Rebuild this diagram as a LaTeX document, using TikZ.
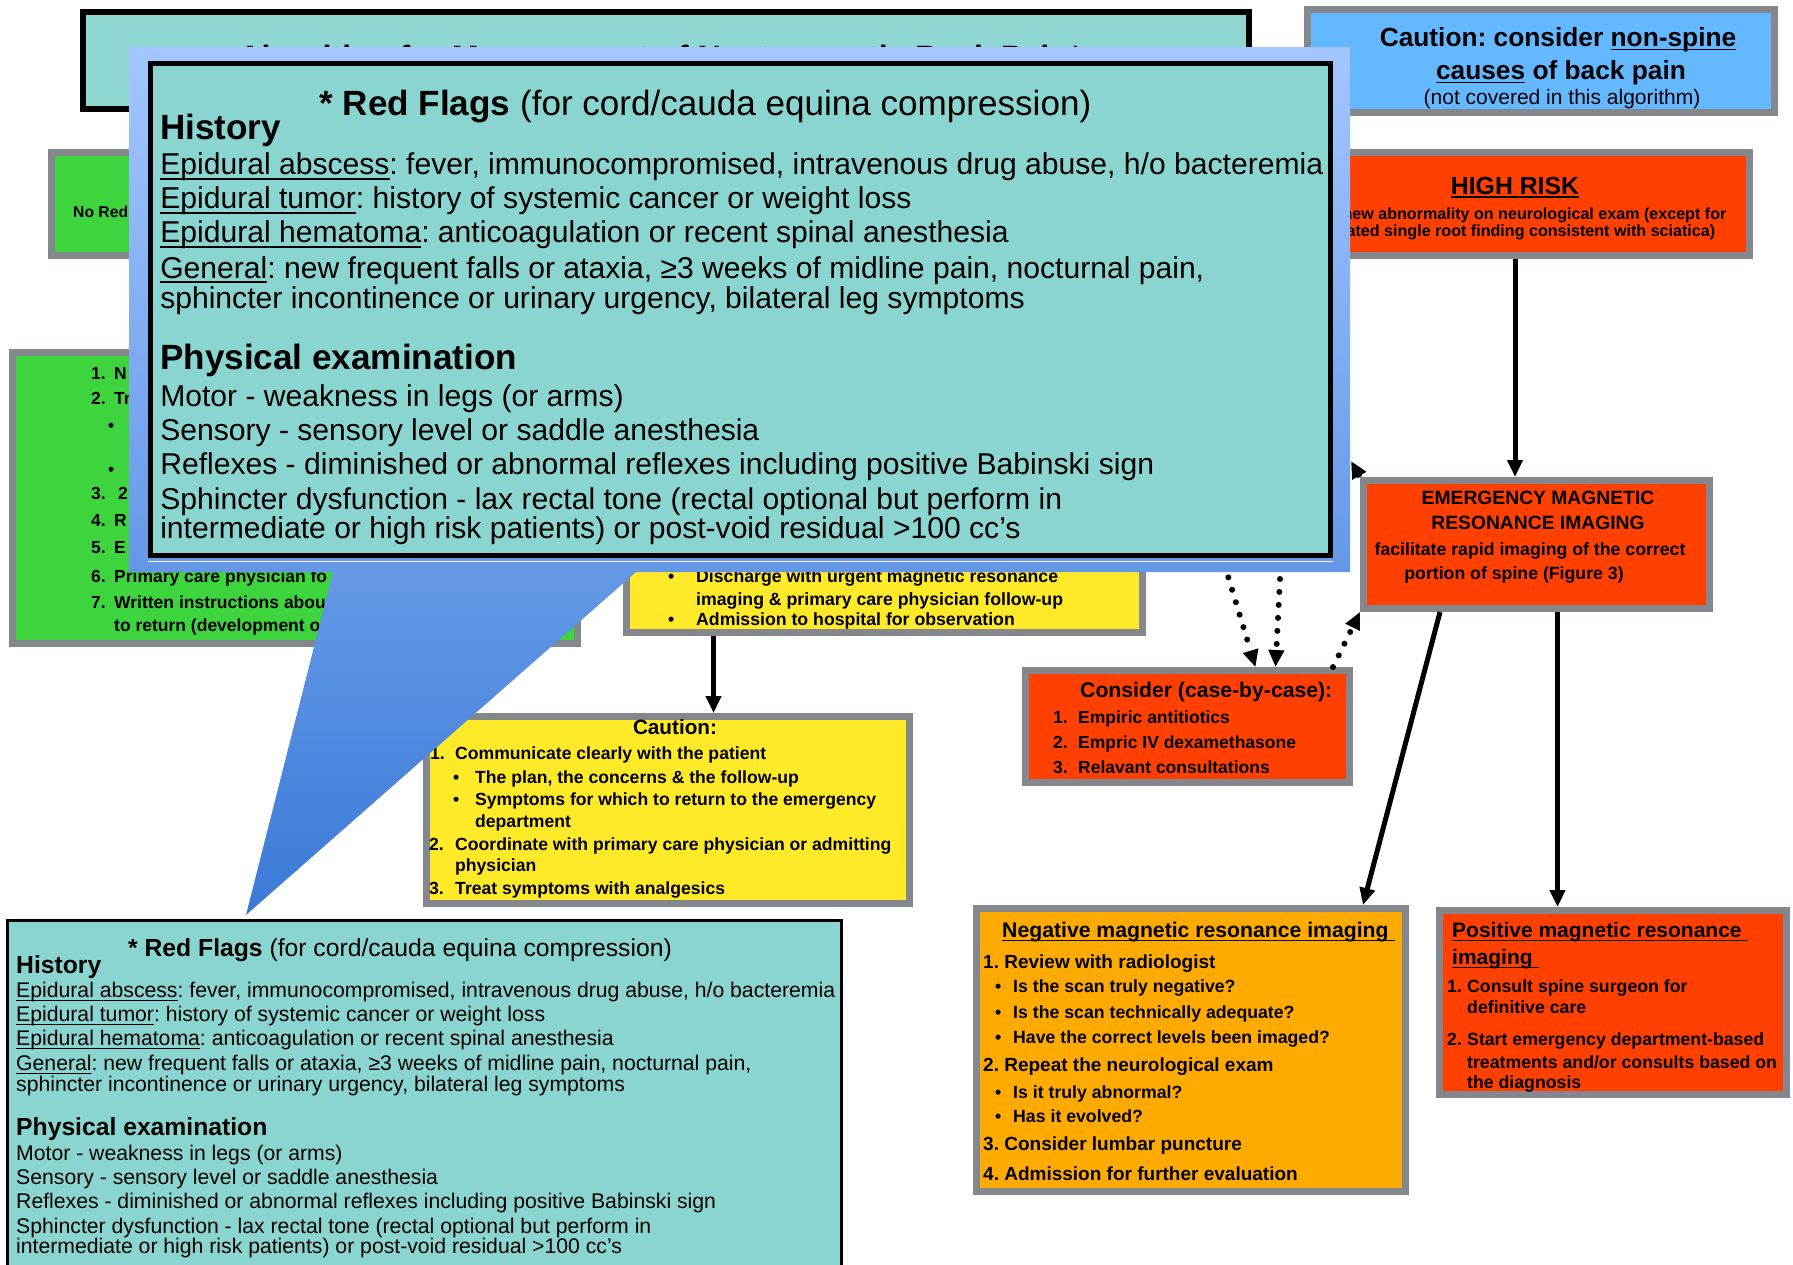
\documentclass[tikz,border=0pt]{standalone}
\usepackage{fontspec}
\setmainfont{Liberation Sans}
\usetikzlibrary{arrows.meta}
\frenchspacing
\definecolor{flagteal}{HTML}{8AD5CF}
\definecolor{flaggreen}{HTML}{3DD43D}
\definecolor{flagyellow}{HTML}{FFEA2A}
\definecolor{flagorange}{HTML}{FFAA00}
\definecolor{flagred}{HTML}{FF4000}
\definecolor{flagblue}{HTML}{64B8FF}
\definecolor{framegray}{HTML}{84888D}
\definecolor{calloutlight}{HTML}{A4C6FF}
\definecolor{calloutdark}{HTML}{3A7AD6}
\newcommand\fs[1]{\fontsize{#1}{#1}\selectfont}
\newcommand\uln[1]{\setbox0=\hbox{#1}\rlap{\vrule width\wd0 height -0.1em depth 0.16em}\box0\relax}
\newcommand\itm[2][23pt]{\makebox[#1][l]{#2}}
\tikzstyle{graybox}=[rectangle, draw=framegray, line width=7pt, inner sep=0pt]
\tikzstyle{blackbox}=[rectangle, draw=black, fill=flagteal, inner sep=0pt]
\tikzstyle{lbl}=[anchor=base west, inner sep=0pt]
\tikzstyle{clbl}=[anchor=base, inner sep=0pt]
\tikzstyle{flow}=[line width=5pt, -{Triangle[length=17pt,width=15pt]}]
\tikzstyle{dotflow}=[line width=6pt, line cap=round, dash pattern=on 0pt off 13pt, -{Triangle[length=17pt,width=15pt]}]
% red flag text, drawn twice (small box and callout)
\newcommand\flagtext{
	\node[lbl, font=\fs{24.7}] (head) at (112,9) {\textbf{* Red Flags} (for cord/cauda equina compression)};
	\node[lbl, font=\bfseries\fs{24.7}] (hist) at (0,26) {History};
	\node[lbl, font=\fs{21.2}] (abs) at (0,50.5) {\uln{Epidural abscess}: fever, immunocompromised, intravenous drug abuse, h/o bacteremia};
	\node[lbl, font=\fs{21.2}] (tum) at (0,74.5) {\uln{Epidural tumor}: history of systemic cancer or weight loss};
	\node[lbl, font=\fs{21.2}] (hem) at (0,98.5) {\uln{Epidural hematoma}: anticoagulation or recent spinal anesthesia};
	\node[lbl, font=\fs{21.2}] (gen) at (0,123.5) {\uln{General}: new frequent falls or ataxia, ≥3 weeks of midline pain, nocturnal pain,};
	\node[lbl, font=\fs{21.2}] (gen2) at (0,144.5) {sphincter incontinence or urinary urgency, bilateral leg symptoms};
	\node[lbl, font=\bfseries\fs{24.7}] (phys) at (0,188) {Physical examination};
	\node[lbl, font=\fs{21.2}] (mot) at (0,213.5) {Motor - weakness in legs (or arms)};
	\node[lbl, font=\fs{21.2}] (sens) at (0,237.5) {Sensory - sensory level or saddle anesthesia};
	\node[lbl, font=\fs{21.2}] (refl) at (0,261.5) {Reflexes - diminished or abnormal reflexes including positive Babinski sign};
	\node[lbl, font=\fs{21.2}] (sph) at (0,286.5) {Sphincter dysfunction - lax rectal tone (rectal optional but perform in};
	\node[lbl, font=\fs{21.2}] (sph2) at (0,306.5) {intermediate or high risk patients) or post-void residual >100 cc’s};
}
\begin{document}
\begin{tikzpicture}[x=1pt,y=-1pt]
	\useasboundingbox (0,0) rectangle (1793,1264);
	\fill[white] (0,0) rectangle (1793,1264);

	%The boxes
	\node[blackbox, line width=6pt, fill=flagteal!95!white, minimum width=1166pt, minimum height=97pt] (title) at (666,60.5) {};
	\node[graybox, fill=flagblue, minimum width=467pt, minimum height=103pt] (nonspine) at (1541,61) {};
	\node[graybox, fill=flaggreen, minimum width=245pt, minimum height=103pt] (noflag) at (174,204) {};
	\node[graybox, fill=flagred, minimum width=469pt, minimum height=103pt] (highrisk) at (1515,204) {};
	\node[graybox, fill=flaggreen, minimum width=565pt, minimum height=291pt] (lowrisk) at (295,498) {};
	\node[graybox, fill=flagyellow, minimum width=516pt, minimum height=159pt] (midyel) at (884.5,553) {};
	\node[graybox, fill=flagyellow, minimum width=483pt, minimum height=187pt] (caution) at (668,810) {};
	\node[graybox, fill=flagred, minimum width=346pt, minimum height=128pt] (emerg) at (1536.5,544.5) {};
	\node[graybox, fill=flagred, minimum width=324pt, minimum height=112pt] (consider) at (1187.5,726.5) {};
	\node[graybox, fill=flagorange, minimum width=429pt, minimum height=283pt] (neg) at (1191,1050) {};
	\node[graybox, fill=flagred, minimum width=347pt, minimum height=184pt] (pos) at (1613,1002.5) {};
	\node[blackbox, line width=3pt, minimum width=834pt, minimum height=368pt] (flags) at (424.5,1104.5) {};

	%The connectors
	\draw[flow] (highrisk.south) -- (highrisk.south |- emerg.north);
	\coordinate (my) at ([xshift=-171pt]midyel.south);
	\draw[flow] (my) -- (my |- caution.north);
	\coordinate (en) at ([xshift=80pt]emerg.south west);
	\draw[flow] (en) -- ([xshift=-46pt]neg.north east);
	\coordinate (ep) at ([xshift=21pt]emerg.south);
	\draw[flow] (ep) -- (ep |- pos.north);
	\coordinate (tipE) at (1351,461);
	\draw[flow] (emerg.north west) -- (tipE);
	\coordinate (dotA) at (1217,540);
	\coordinate (dotB) at (1282,540);
	\draw[dotflow] (dotA) -- ([xshift=68pt]consider.north);
	\draw[dotflow] (dotB) -- ([xshift=88pt]consider.north);
	\draw[dotflow] ([xshift=-20pt]consider.north east) -- (emerg.south west);

	%The texts
	\node[clbl, font=\bfseries\fs{32.3}] (t0) at (660,68) {Algorithm for Management of Nontraumatic Back Pain*};
	\node[clbl, font=\bfseries\fs{26.3}] (b1) at (1558,46) {Caution: consider \uln{non-spine}};
	\node[clbl, font=\bfseries\fs{26.3}] (b2) at (1561,79) {\uln{causes} of back pain};
	\node[clbl, font=\fs{21}] (b3) at (1562,104) {(not covered in this algorithm)};
	\node[lbl, font=\bfseries\fs{15.7}] (nr0) at (73,217.5) {No Red};
	\node[clbl, font=\bfseries\fs{24.8}] (h0) at (1515,194) {\uln{HIGH RISK}};
	\node[clbl, font=\bfseries\fs{16.1}] (h1) at (1517,219) {Any new abnormality on neurological exam (except for};
	\node[clbl, font=\bfseries\fs{16.1}] (h2) at (1517,236) {isolated single root finding consistent with sciatica)};

	\node[lbl, font=\bfseries\fs{17.5}] (g1) at (91,379) {\itm{1.}N};
	\node[lbl, font=\bfseries\fs{17.5}] (g2) at (91,404) {\itm{2.}Tr};
	\node[lbl, font=\bfseries\fs{17.5}] (g3) at (108,431) {•};
	\node[lbl, font=\bfseries\fs{17.5}] (g4) at (108,475) {•};
	\node[lbl, font=\bfseries\fs{17.5}] (g5) at (91,499) {\itm{3.}\hspace{4pt}2};
	\node[lbl, font=\bfseries\fs{17.5}] (g6) at (91,526) {\itm{4.}R};
	\node[lbl, font=\bfseries\fs{17.5}] (g7) at (91,553) {\itm{5.}E};
	\node[lbl, font=\bfseries\fs{17.5}] (g8) at (91,582) {\itm{6.}Primary care physician fo};
	\node[lbl, font=\bfseries\fs{17.5}] (g9) at (91,608) {\itm{7.}Written instructions abou};
	\node[lbl, font=\bfseries\fs{17.5}] (g10) at (114,631) {to return (development o};

	\node[lbl, font=\bfseries\fs{17.7}] (my1) at (668,582) {\itm[28pt]{•}Discharge with urgent magnetic resonance};
	\node[lbl, font=\bfseries\fs{17.7}] (my2) at (696,605) {imaging \& primary care physician follow-up};
	\node[lbl, font=\bfseries\fs{17.7}] (my3) at (668,625) {\itm[28pt]{•}Admission to hospital for observation};

	\node[clbl, font=\bfseries\fs{20.7}] (cy0) at (675,734) {Caution:};
	\node[lbl, font=\bfseries\fs{17.6}] (cy1) at (430,759) {\itm[25pt]{1.}Communicate clearly with the patient};
	\node[lbl, font=\bfseries\fs{17.6}] (cy2) at (453,783) {\itm[22pt]{•}The plan, the concerns \& the follow-up};
	\node[lbl, font=\bfseries\fs{17.6}] (cy3) at (453,805) {\itm[22pt]{•}Symptoms for which to return to the emergency};
	\node[lbl, font=\bfseries\fs{17.6}] (cy4) at (475,827) {department};
	\node[lbl, font=\bfseries\fs{17.6}] (cy5) at (429,850) {\itm[26pt]{2.}Coordinate with primary care physician or admitting};
	\node[lbl, font=\bfseries\fs{17.6}] (cy6) at (455,871) {physician};
	\node[lbl, font=\bfseries\fs{17.6}] (cy7) at (429,894) {\itm[26pt]{3.}Treat symptoms with analgesics};

	\node[clbl, font=\bfseries\fs{19.3}] (e0) at (1538,504) {EMERGENCY MAGNETIC};
	\node[clbl, font=\bfseries\fs{19.3}] (e1) at (1538,529) {RESONANCE IMAGING};
	\node[clbl, font=\bfseries\fs{17.7}] (e2) at (1530,555) {facilitate rapid imaging of the correct};
	\node[clbl, font=\bfseries\fs{17.7}] (e3) at (1514,579) {portion of spine (Figure 3)};

	\node[lbl, font=\bfseries\fs{21.2}] (c0) at (1080,697.5) {Consider (case-by-case):};
	\node[lbl, font=\bfseries\fs{17.5}] (c1) at (1053,723) {\itm[25pt]{1.}Empiric antitiotics};
	\node[lbl, font=\bfseries\fs{17.5}] (c2) at (1053,748) {\itm[25pt]{2.}Empric IV dexamethasone};
	\node[lbl, font=\bfseries\fs{17.5}] (c3) at (1053,773) {\itm[25pt]{3.}Relavant consultations};

	\node[lbl, font=\bfseries\fs{21.2}] (n0) at (1002,937.5) {\uln{Negative magnetic resonance imaging\ }};
	\node[lbl, font=\bfseries\fs{19}] (n1) at (983,968) {1. Review with radiologist};
	\node[lbl, font=\bfseries\fs{17.7}] (n2) at (995,992) {\itm[18pt]{•}Is the scan truly negative?};
	\node[lbl, font=\bfseries\fs{17.7}] (n3) at (995,1018) {\itm[18pt]{•}Is the scan technically adequate?};
	\node[lbl, font=\bfseries\fs{17.7}] (n4) at (995,1043) {\itm[18pt]{•}Have the correct levels been imaged?};
	\node[lbl, font=\bfseries\fs{19}] (n5) at (983,1071) {2. Repeat the neurological exam};
	\node[lbl, font=\bfseries\fs{17.7}] (n6) at (995,1098) {\itm[18pt]{•}Is it truly abnormal?};
	\node[lbl, font=\bfseries\fs{17.7}] (n7) at (995,1122) {\itm[18pt]{•}Has it evolved?};
	\node[lbl, font=\bfseries\fs{19}] (n8) at (983,1150) {3. Consider lumbar puncture};
	\node[lbl, font=\bfseries\fs{19}] (n9) at (983,1180) {4. Admission for further evaluation};

	\node[lbl, font=\bfseries\fs{21}] (p0) at (1452,937.5) {\uln{Positive magnetic resonance\ }};
	\node[lbl, font=\bfseries\fs{21}] (p1) at (1452,964.5) {\uln{imaging\ }};
	\node[lbl, font=\bfseries\fs{17.7}] (p2) at (1447,992) {\itm[20pt]{1.}Consult spine surgeon for};
	\node[lbl, font=\bfseries\fs{17.7}] (p3) at (1467,1013) {definitive care};
	\node[lbl, font=\bfseries\fs{17.7}] (p4) at (1447,1045) {\itm[20pt]{2.}Start emergency department-based};
	\node[lbl, font=\bfseries\fs{17.7}] (p5) at (1467,1068) {treatments and/or consults based on};
	\node[lbl, font=\bfseries\fs{17.7}] (p6) at (1467,1088) {the diagnosis};

	%The small red flag box
	\begin{scope}[shift={(16,947)}, name prefix=bot-]
		\flagtext
	\end{scope}

	%The callout
	\shade[top color=calloutlight, bottom color=calloutdark] (129,47) -- (1350,47) -- (1350,572) -- (636,572) -- (246,915) -- (333,572) -- (129,572) -- cycle;
	\node[blackbox, line width=5pt, minimum width=1180pt, minimum height=492pt] (popup) at (740.5,309.5) {};
	\draw[white, line width=1.5pt] ([yshift=-3.5pt]popup.south west) -- ([yshift=-3.5pt]popup.south east);
	\begin{scope}[shift={(160,103)}, scale=1.42, transform shape, name prefix=pop-]
		\flagtext
	\end{scope}
\end{tikzpicture}
\end{document}
